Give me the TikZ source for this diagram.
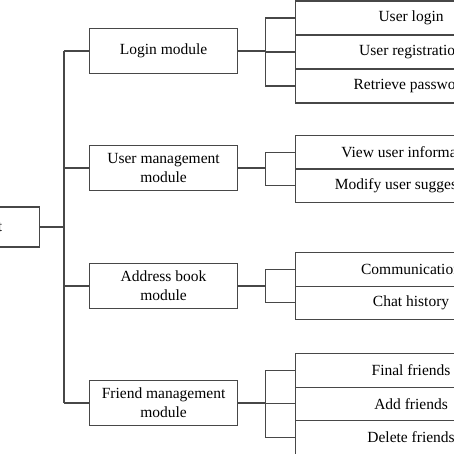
\documentclass[tikz,border=0pt]{standalone}
\usepackage{fontspec}
\setmainfont{Liberation Serif}
\begin{document}
\begin{tikzpicture}[x=1pt,y=1pt,
  box/.style={draw=black!72, line width=1.1pt, rectangle, inner sep=0pt,
    font=\fontsize{15.5}{19}\selectfont, align=center},
  modbox/.style={box, minimum width=148pt, minimum height=45pt, anchor=west},
  leafbox/.style={box, minimum width=231pt, minimum height=34pt, anchor=north west},
  link/.style={draw=black!72, line width=1.1pt}]
\useasboundingbox (0,0) rectangle (454,-454);
\clip (0,0) rectangle (454,-454);
% root
\node[box, minimum width=140pt, minimum height=40pt, anchor=east] (root) at (40,-227) {};
\node[anchor=east, inner sep=0pt, font=\fontsize{15.5}{19}\selectfont] (roottxt) at (2.5,-227) {t};
% modules
\node[modbox] (m1) at (89,-51) {Login module};
\node[modbox] (m2) at (89,-168) {User management\\module};
\node[modbox] (m3) at (89,-286) {Address book\\module};
\node[modbox] (m4) at (89,-403) {Friend management\\module};
% leaves
\node[leafbox] (l11) at (295,-0.5) {User login};
\node[leafbox] (l12) at (295,-34.5) {User registration};
\node[leafbox] (l13) at (295,-68.5) {Retrieve password};
\node[leafbox, minimum height=33.5pt] (l21) at (295,-135) {View user information};
\node[leafbox, minimum height=33.5pt] (l22) at (295,-168.5) {Modify user suggestions};
\node[leafbox, minimum height=33.5pt] (l31) at (295,-252) {Communication};
\node[leafbox, minimum height=33.5pt] (l32) at (295,-285.5) {Chat history};
\node[leafbox, minimum height=33.5pt] (l41) at (295,-353) {Final friends};
\node[leafbox, minimum height=33.5pt] (l42) at (295,-386.5) {Add friends};
\node[leafbox, minimum height=33.5pt] (l43) at (295,-420) {Delete friends};
% root connectors
\draw[link] (root.east) -- ++(24,0) coordinate (rj);
\draw[link] (m1.west -| rj) -- (m4.west -| rj);
\foreach \m in {m1,m2,m3,m4} \draw[link] (\m.west -| rj) -- (\m.west);
% module connectors
\draw[link] (m1.east) -- ++(27,0) coordinate (j1);
\draw[link] (l11.west -| j1) -- (l13.west -| j1);
\foreach \l in {l11,l12,l13} \draw[link] (\l.west -| j1) -- (\l.west);
\draw[link] (m2.east) -- ++(27,0) coordinate (j2);
\draw[link] (l21.west -| j2) -- (l22.west -| j2);
\foreach \l in {l21,l22} \draw[link] (\l.west -| j2) -- (\l.west);
\draw[link] (m3.east) -- ++(27,0) coordinate (j3);
\draw[link] (l31.west -| j3) -- (l32.west -| j3);
\foreach \l in {l31,l32} \draw[link] (\l.west -| j3) -- (\l.west);
\draw[link] (m4.east) -- ++(27,0) coordinate (j4);
\draw[link] (l41.west -| j4) -- (l43.west -| j4);
\foreach \l in {l41,l42,l43} \draw[link] (\l.west -| j4) -- (\l.west);
\end{tikzpicture}
\end{document}
